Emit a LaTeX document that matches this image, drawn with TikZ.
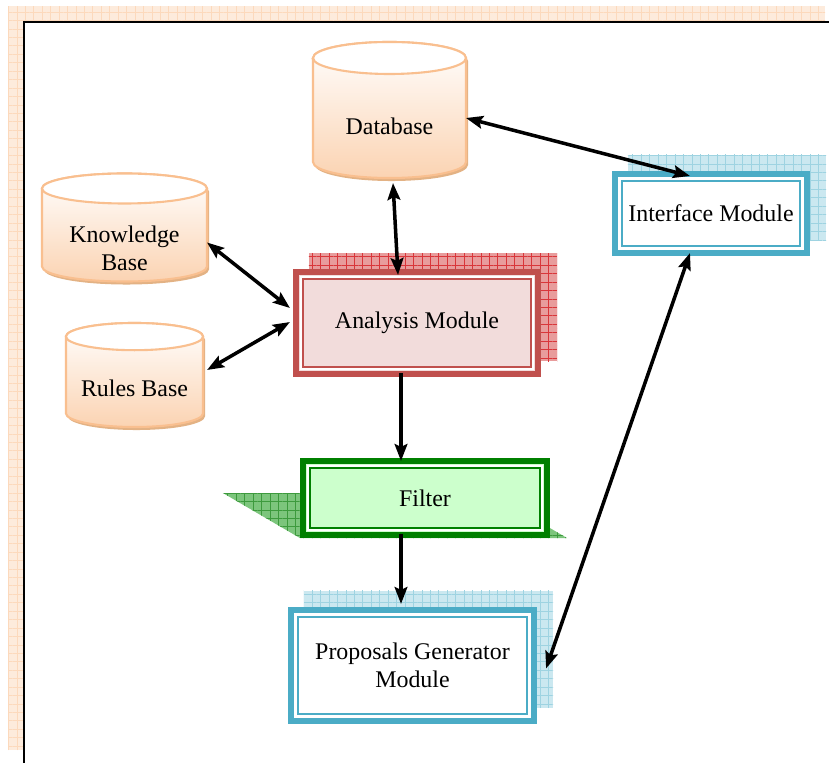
\documentclass[tikz,border=0pt]{standalone}
\usepackage{fontspec}
\setmainfont{Liberation Serif}
\usetikzlibrary{arrows.meta,patterns.meta,backgrounds}
\definecolor{peachline}{HTML}{F9BF8F}
\definecolor{peachfill}{HTML}{FBD3B2}
\definecolor{peachbg}{HTML}{FDEBDC}
\definecolor{peachgrid}{HTML}{FCD9BC}
\definecolor{redline}{HTML}{C0504D}
\definecolor{redfill}{HTML}{F2DCDB}
\definecolor{redshade}{HTML}{E89C9C}
\definecolor{redgrid}{HTML}{D9363A}
\definecolor{greenline}{HTML}{008000}
\definecolor{greenfill}{HTML}{CCFFCC}
\definecolor{greenshade}{HTML}{7CC57C}
\definecolor{greengrid}{HTML}{3D9A3D}
\definecolor{blueline}{HTML}{4BACC6}
\definecolor{blueshade}{HTML}{CBE8F0}
\definecolor{bluegrid}{HTML}{9ED3E1}
\tikzset{
  txt/.style={font=\fontsize{17}{20}\selectfont,align=center},
  store/.style={rectangle,inner sep=0pt,outer sep=0pt},
  storebody/.style={top color=white,bottom color=peachfill,draw=peachline,line width=1.5pt},
  storetop/.style={fill=white,draw=peachline,line width=1.5pt},
  storeshadow/.style={fill=brown!40!peachfill,transform canvas={shift={(2,3)}}},
  module/.style={rectangle,draw=#1,line width=4.3pt,txt},
  inner/.style={draw=#1,line width=1.4pt},
  hatched/.style 2 args={fill=#1,postaction={pattern={Hatch[distance=6pt,line width=.5pt]},pattern color=#2}},
  link/.style={draw=black,line width=2.5pt,{Stealth[length=12pt,width=9pt,inset=2pt]}-{Stealth[length=12pt,width=9pt,inset=2pt]}},
  feed/.style={draw=black,line width=2.5pt,-{Stealth[length=12pt,width=9pt,inset=2pt]}}
}
\begin{document}
\begin{tikzpicture}[x=0.025cm,y=-0.025cm]
  \useasboundingbox (0,0) rectangle (829,763);
  % frame
  \begin{scope}[on background layer]
    \path[hatched={peachbg}{peachgrid}] (8,6) rectangle (825,750);
    \fill[white] (24,22) rectangle (829,763);
    \draw[line width=1.8pt] (24,763) -- (24,22) -- (829,22);
  \end{scope}
  % stores
  \node[store,minimum width=3.825cm,minimum height=3.4cm,
    label={[txt,yshift=-11.3pt]center:Database}] (db) at (389.5,110) {};
  \node[store,minimum width=4.125cm,minimum height=2.7cm,
    label={[txt,yshift=-14.5pt]center:Knowledge\\Base}] (kb) at (124.5,227.5) {};
  \node[store,minimum width=3.425cm,minimum height=2.6cm,
    label={[txt,yshift=-9.2pt]center:Rules Base}] (rb) at (134.5,375) {};
  \begin{scope}[on background layer]
  \foreach \n/\w/\r in {db/1.9125cm/0.4cm,kb/2.0625cm/0.375cm,rb/1.7125cm/0.34cm}{
    \foreach \s in {storeshadow,storebody}
      \path[\s] ([yshift=-\r]\n.north west) -- ([yshift=\r]\n.south west)
        arc[start angle=180,end angle=360,x radius=\w,y radius=\r]
        -- ([yshift=-\r]\n.north east)
        arc[start angle=0,end angle=180,x radius=\w,y radius=\r] -- cycle;
    \path[storetop] ([yshift=-\r]\n.north) ellipse[x radius=\w,y radius=\r];
  }
  \end{scope}
  % modules
  \node[module=redline,fill=redfill,minimum width=6.05cm,minimum height=2.55cm] (am) at (417,323) {Analysis Module};
  \node[module=greenline,fill=greenfill,minimum width=6.1cm,minimum height=1.85cm] (ft) at (425,498) {Filter};
  \node[module=blueline,fill=white,minimum width=6.075cm,minimum height=2.775cm] (pg) at (412.5,665.5) {Proposals Generator\\Module};
  \node[module=blueline,fill=white,minimum width=4.8cm,minimum height=1.975cm] (im) at (711,213.5) {Interface Module};
  \foreach \n/\c in {am/redline,ft/greenline,pg/blueline,im/blueline}{
    \draw[white,line width=2pt] ([shift={(8,-8)}]\n.south west) rectangle ([shift={(-8,8)}]\n.north east);
    \draw[inner=\c] ([shift={(10.5,-10.5)}]\n.south west) rectangle ([shift={(-10.5,10.5)}]\n.north east);
  }
  \begin{scope}[on background layer]
    \path[hatched={redshade}{redgrid}] ([shift={(16,-16)}]am.south west) rectangle ([shift={(16,-16)}]am.north east);
    \path[hatched={greenshade}{greengrid}] ([shift={(-77,-45)}]ft.south west) -- ([shift={(190,-45)}]ft.south west)
      -- ([shift={(17,0)}]ft.south east) -- (ft.south west) -- cycle;
    \path[hatched={blueshade}{bluegrid}] ([shift={(16,-16)}]pg.south west) rectangle ([shift={(16,-16)}]pg.north east);
    \path[hatched={blueshade}{bluegrid}] ([shift={(16,-16)}]im.south west) rectangle ([shift={(16,-16)}]im.north east);
  \end{scope}
  % connectors
  \path[link] ([shift={(0,8)}]db.east) -- ([shift={(-21,5)}]im.north);
  \path[link] ([shift={(3.5,5)}]db.south) -- ([shift={(-19,6)}]am.north);
  \path[link] ([shift={(0,15)}]kb.east) -- ([shift={(-3,-15)}]am.west);
  \path[link] ([shift={(4,-5)}]rb.east) -- ([shift={(-3,-1)}]am.west);
  \path[feed] ([shift={(-16,-4)}]am.south) -- ([shift={(-24,3)}]ft.north);
  \path[feed] ([shift={(-24,-4)}]ft.south) -- ([shift={(-11.5,-3)}]pg.north);
  \path[link] ([shift={(-21,-3)}]im.south) -- ([shift={(9,3)}]pg.east);
\end{tikzpicture}
\end{document}
